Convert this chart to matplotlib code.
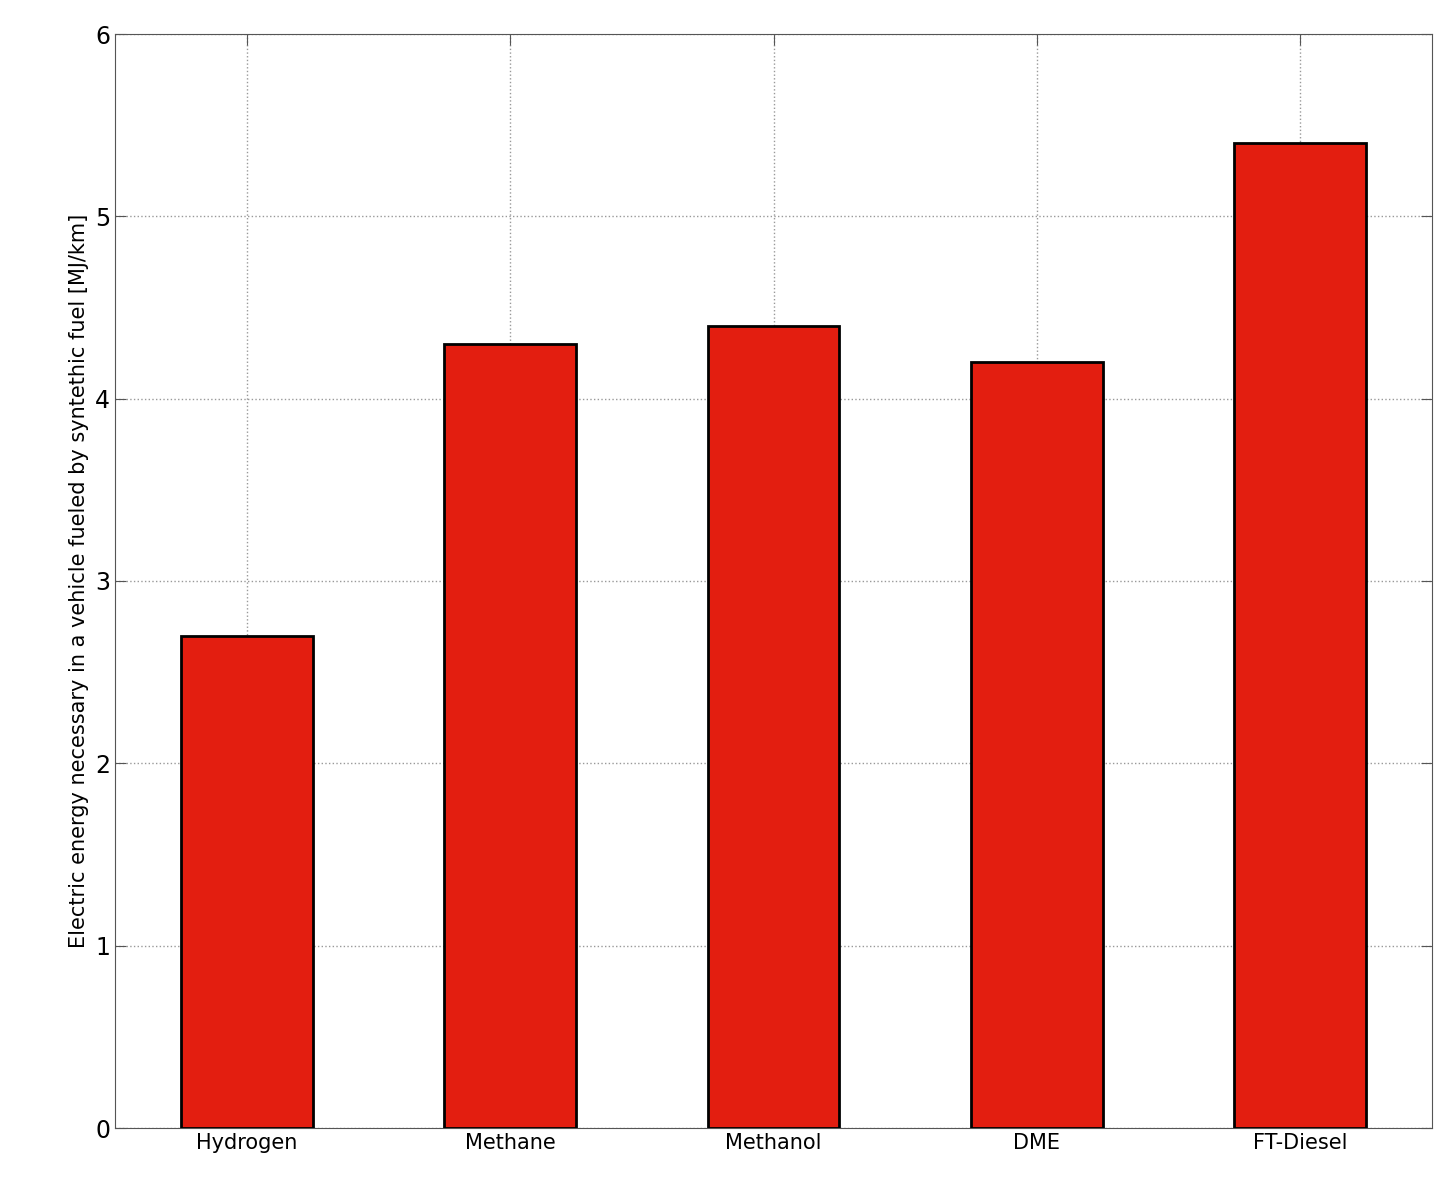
import matplotlib
matplotlib.use("Agg")
import matplotlib.pyplot as plt

categories = ["Hydrogen", "Methane", "Methanol", "DME", "FT-Diesel"]
values = [2.7, 4.3, 4.4, 4.2, 5.4]

fig = plt.figure(figsize=(14.48, 11.87), dpi=100)
ax = fig.add_axes([115/1448, 1-1128/1187, (1432-115)/1448, (1128-34)/1187])
x = range(len(categories))
ax.bar(x, values, width=0.5, color="#E31E10", edgecolor="black", linewidth=2, zorder=3)
ax.set_xlim(-0.5, 4.5)
ax.set_ylim(0, 6)
ax.set_xticks(list(x))
ax.set_xticklabels(categories, fontsize=15)
ax.set_yticks(range(7))
ax.tick_params(axis="y", labelsize=17)
ax.tick_params(direction="in", top=True, right=True, length=8, color="#555555")
ax.grid(True, linestyle=":", color="#999999", linewidth=1, zorder=0)
for s in ax.spines.values():
    s.set_color("#555555")
ax.set_ylabel("Electric energy necessary in a vehicle fueled by syntethic fuel [MJ/km]", fontsize=15)
fig.savefig("out.png", dpi=100)
